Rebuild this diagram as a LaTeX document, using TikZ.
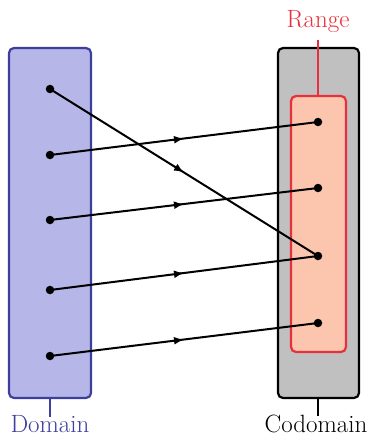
\documentclass[tikz,border=0pt]{standalone}
\usetikzlibrary{decorations.markings,arrows.meta}
\definecolor{domfill}{HTML}{B6B6E8}
\definecolor{domdraw}{HTML}{3E3E9C}
\definecolor{codfill}{HTML}{C0C0C0}
\definecolor{rngfill}{HTML}{FCC6AE}
\definecolor{rngdraw}{HTML}{E8303C}
\begin{document}
\begin{tikzpicture}[x=1pt,y=-1pt,
  setbox/.style={rounded corners=5pt,line width=2.2pt},
  pt/.style={circle,fill=black,inner sep=0pt,minimum size=8.5pt},
  lbl/.style={font=\fontsize{25}{29}\selectfont,inner sep=0pt,anchor=base},
  maparrow/.style={line width=2pt,postaction={decorate},
    decoration={markings,mark=at position 0.5 with {\arrow{Latex[length=10pt,width=8pt]}}}}]
\useasboundingbox (0,0) rectangle (369,436);
\draw[setbox,draw=domdraw,fill=domfill] (9,48) rectangle (91,398);
\draw[setbox,draw=black,fill=codfill] (278,48) rectangle (359,398);
\draw[setbox,draw=rngdraw,fill=rngfill] (291,96) rectangle (346,352);
\node[lbl,text=domdraw] (dl) at (50,432) {Domain};
\node[lbl,text=black] (cl) at (316,432) {Codomain};
\node[lbl,text=rngdraw] (rl) at (318,28) {Range};
\coordinate (dbot) at (50,398);
\coordinate (cbot) at (318,398);
\coordinate (rtop) at (318,96);
\draw[line width=2.2pt,domdraw] (dbot) -- ([yshift=-2pt]dbot |- dl.north);
\draw[line width=2.2pt,black] (cbot) -- ([yshift=-2pt]cbot |- cl.north);
\draw[line width=2.2pt,rngdraw] (rtop) -- ([yshift=-7pt]rtop |- rl.south);
\node[pt] (d1) at (50,89) {};
\node[pt] (d2) at (50,155) {};
\node[pt] (d3) at (50,220) {};
\node[pt] (d4) at (50,290) {};
\node[pt] (d5) at (50,356) {};
\node[pt] (c1) at (318,122) {};
\node[pt] (c2) at (318,188) {};
\node[pt] (c3) at (318,256) {};
\node[pt] (c4) at (318,323) {};
\draw[maparrow] (d1.center) -- (c3.center);
\draw[maparrow] (d2.center) -- (c1.center);
\draw[maparrow] (d3.center) -- (c2.center);
\draw[maparrow] (d4.center) -- (c3.center);
\draw[maparrow] (d5.center) -- (c4.center);
\end{tikzpicture}
\end{document}
